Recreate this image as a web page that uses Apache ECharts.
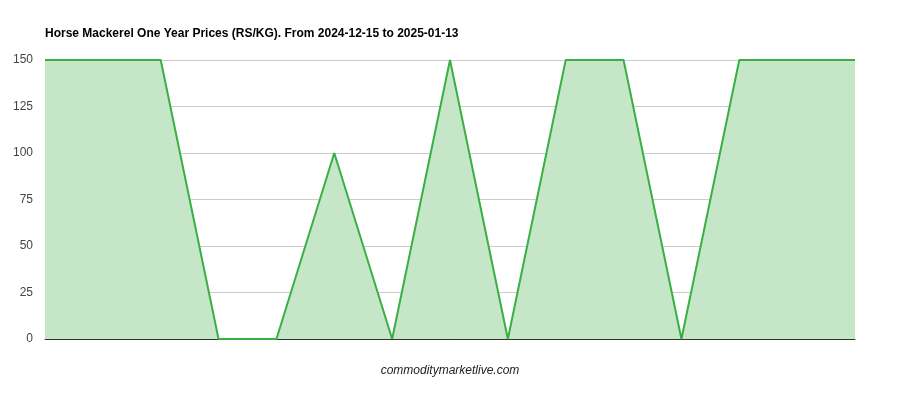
<!DOCTYPE html>
<html>
<head>
<meta charset="utf-8">
<script src="https://cdn.jsdelivr.net/npm/echarts@6/dist/echarts.min.js"></script>
<style>
  html, body { margin: 0; padding: 0; background: #fff; }
  #chart { width: 900px; height: 400px; }
</style>
</head>
<body>
<div id="chart"></div>
<script>
// days from 2024-12-15 to 2025-01-13 (labels hidden in the original)
const days = ['2024-12-15', '2024-12-17', '2024-12-19', '2024-12-21', '2024-12-23',
  '2024-12-25', '2024-12-27', '2024-12-29', '2024-12-31', '2025-01-02',
  '2025-01-04', '2025-01-06', '2025-01-08', '2025-01-10', '2025-01-13']
const prices = [150, 150, 150, 0, 0, 100, 0, 150, 0, 150, 150, 0, 150, 150, 150]
const yTicks = [0, 25, 50, 75, 100, 125, 150]

const chart = echarts.init(document.getElementById('chart'))
chart.setOption({
  animation: false,
  title: {
    text: 'Horse Mackerel One Year Prices (RS/KG). From 2024-12-15 to 2025-01-13',
    left: 45,
    top: 28,
    padding: 0,
    textStyle: {
      fontFamily: 'Liberation Sans, Arial, sans-serif',
      fontSize: 12,
      fontWeight: 'bold',
      color: '#000'
    }
  },
  grid: {
    left: 45,
    right: 45,
    top: 60,
    bottom: 61
  },
  xAxis: {
    type: 'category',
    data: days,
    boundaryGap: false,
    name: 'commoditymarketlive.com',
    nameLocation: 'middle',
    nameGap: 26,
    nameTextStyle: {
      fontFamily: 'Liberation Sans, Arial, sans-serif',
      fontSize: 12,
      fontStyle: 'italic',
      color: '#222'
    },
    axisLine: { show: true, lineStyle: { color: '#333', width: 1 } },
    axisTick: { show: false },
    axisLabel: { show: false },
    splitLine: { show: false }
  },
  yAxis: {
    type: 'value',
    min: yTicks[0],
    max: yTicks[yTicks.length - 1],
    interval: 25,
    axisLine: { show: false },
    axisTick: { show: false },
    axisLabel: {
      margin: 12,
      padding: [4, 0, 0, 0],
      fontFamily: 'Liberation Sans, Arial, sans-serif',
      fontSize: 12,
      color: '#444'
    },
    splitLine: { lineStyle: { color: '#cccccc', width: 1 } }
  },
  series: [
    {
      type: 'line',
      data: prices,
      showSymbol: false,
      lineStyle: { color: '#3aaf45', width: 2 },
      itemStyle: { color: '#3aaf45' },
      areaStyle: { color: '#c5e7c8', opacity: 1 }
    }
  ]
})
</script>
</body>
</html>
